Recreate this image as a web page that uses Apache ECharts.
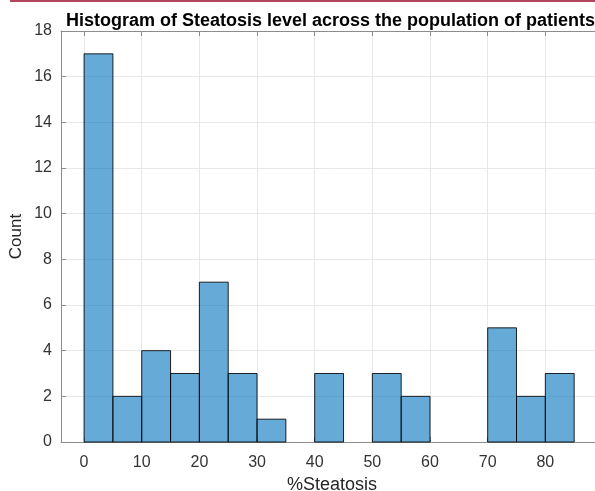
<!DOCTYPE html>
<html>
<head>
<meta charset="utf-8">
<script src="https://cdn.jsdelivr.net/npm/echarts@6/dist/echarts.min.js"></script>
<style>
	html, body { margin: 0; padding: 0; background: #fff; }
	#chart { width: 595px; height: 491px; }
</style>
</head>
<body>
<div id="chart"></div>
<script>
// bin edges (width 5) and counts per bin
const binStarts = [0, 5, 10, 15, 20, 25, 30, 35, 40, 45, 50, 55, 60, 65, 70, 75, 80];
const binWidth = 5;
const counts = [17, 2, 4, 3, 7, 3, 1, 0, 3, 0, 3, 2, 0, 0, 5, 2, 3];
const xTicks = [0, 10, 20, 30, 40, 50, 60, 70, 80, 90];
const xLabels = [0, 10, 20, 30, 40, 50, 60, 70, 80];

const font = 'Liberation Sans, Arial, sans-serif';
const myChart = echarts.init(document.getElementById('chart'));

const barData = binStarts.map((s, i) => [s, s + binWidth, counts[i]]);

const option = {
	backgroundColor: '#fff',
	animation: false,
	title: {
		text: 'Histogram of Steatosis level across the population of patients',
		left: 61,
		top: 7,
		textStyle: { fontFamily: font, fontSize: 18, fontWeight: 'bold', color: '#000' },
	},
	graphic: [
		{ type: 'rect', shape: { x: 10, y: 0, width: 585, height: 2 }, style: { fill: '#b3455d' } },
	],
	grid: { left: 61, right: -8, top: 31, bottom: 49, outerBoundsMode: 'none' },
	xAxis: [
		{
			type: 'value',
			min: -4,
			max: 90,
			name: '%Steatosis',
			nameLocation: 'middle',
			nameGap: 32,
			nameTextStyle: { fontFamily: font, fontSize: 18, color: '#262626' },
			axisLine: { show: true, onZero: false, lineStyle: { color: '#8c8c8c', width: 1 } },
			axisTick: { show: true, inside: true, length: 5, customValues: xTicks, lineStyle: { color: '#8c8c8c' } },
			axisLabel: { customValues: xLabels, margin: 13, fontFamily: font, fontSize: 16, color: '#333' },
			splitLine: { show: true, lineStyle: { color: '#e8e8e8', width: 1 } },
		},
		{
			type: 'value',
			position: 'top',
			min: -4,
			max: 90,
			axisLine: { show: true, onZero: false, lineStyle: { color: '#8c8c8c', width: 1 } },
			axisTick: { show: true, inside: true, length: 5, customValues: xTicks, lineStyle: { color: '#8c8c8c' } },
			axisLabel: { show: false },
			splitLine: { show: false },
		},
	],
	yAxis: [
		{
			type: 'value',
			min: 0,
			max: 18,
			interval: 2,
			name: 'Count',
			nameLocation: 'middle',
			nameGap: 36,
			nameMoveOverlap: false,
			nameTextStyle: { fontFamily: font, fontSize: 17, color: '#262626' },
			axisLine: { show: true, onZero: false, lineStyle: { color: '#8c8c8c', width: 1 } },
			axisTick: { show: true, inside: true, length: 5, lineStyle: { color: '#8c8c8c' } },
			axisLabel: { margin: 9, fontFamily: font, fontSize: 16, color: '#333' },
			splitLine: { show: true, lineStyle: { color: '#e8e8e8', width: 1 } },
		},
	],
	series: [
		{
			type: 'custom',
			xAxisIndex: 0,
			yAxisIndex: 0,
			data: barData,
			encode: { x: [0, 1], y: 2 },
			renderItem: function (params, api) {
				const h = api.value(2);
				if (!h) return;
				const p0 = api.coord([api.value(0), h]);
				const p1 = api.coord([api.value(1), 0]);
				return {
					type: 'rect',
					shape: { x: p0[0], y: p0[1], width: p1[0] - p0[0], height: p1[1] - p0[1] },
					style: {
						fill: 'rgba(0, 114, 189, 0.6)',
						stroke: 'rgba(0, 0, 0, 0.85)',
						lineWidth: 1,
					},
				};
			},
		},
	],
};
myChart.setOption(option);
</script>
</body>
</html>
